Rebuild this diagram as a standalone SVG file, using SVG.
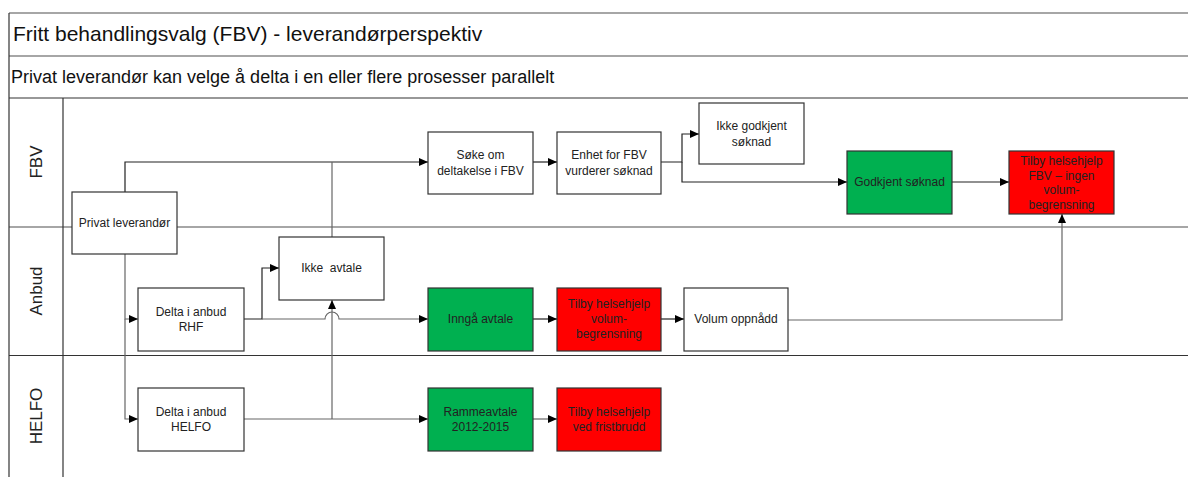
<svg xmlns="http://www.w3.org/2000/svg" width="1188" height="477" viewBox="0 0 1188 477">
<defs>
<marker id="arr" markerWidth="10" markerHeight="8" refX="9" refY="4" orient="auto" markerUnits="userSpaceOnUse">
<path d="M0,0 L9,4 L0,8 Z" fill="#000"/>
</marker>
<style>
.frame{stroke:#333;stroke-width:1.2;fill:none}
.fg{stroke:#888;stroke-width:1.6;fill:none}
.box{fill:#fff;stroke:#333;stroke-width:1.2}
.green{fill:#00B050;stroke:#333;stroke-width:1.2}
.red{fill:#FF0000;stroke:#333;stroke-width:1.2}
.t{font-family:"Liberation Sans",Arial,sans-serif;font-size:12px;fill:#222;text-anchor:middle}
.lane{font-family:"Liberation Sans",Arial,sans-serif;font-size:17px;fill:#222;text-anchor:middle}
.c{stroke:#222;stroke-width:1.2;fill:none}
.cg{stroke:#666;stroke-width:1.2;fill:none}
</style>
</defs>
<rect width="1188" height="477" fill="#fff"/>
<g id="frame">
<line class="fg" x1="9" y1="13" x2="1188" y2="13"/>
<line class="fg" x1="9" y1="56" x2="1188" y2="56"/>
<line class="frame" x1="9" y1="98" x2="1188" y2="98"/>
<line class="fg" x1="9" y1="227" x2="1188" y2="227"/>
<line class="frame" x1="9" y1="355.5" x2="1188" y2="355.5"/>
<line class="frame" x1="9" y1="13" x2="9" y2="477"/>
<line class="frame" x1="63" y1="98" x2="63" y2="477"/>
<text x="13" y="41" font-family="Liberation Sans,Arial,sans-serif" font-size="21" fill="#111">Fritt behandlingsvalg (FBV) - leverandørperspektiv</text>
<text x="11" y="83" font-family="Liberation Sans,Arial,sans-serif" font-size="18" fill="#111">Privat leverandør kan velge å delta i en eller flere prosesser parallelt</text>
<text class="lane" transform="translate(42,162) rotate(-90)">FBV</text>
<text class="lane" transform="translate(42,291) rotate(-90)">Anbud</text>
<text class="lane" transform="translate(42,416) rotate(-90)">HELFO</text>
</g>
<g id="connectors">
<path class="c" d="M125,192 V162 H428" marker-end="url(#arr)"/>
<path class="cg" d="M332,237 V162"/>
<path class="c" d="M533,162 H557" marker-end="url(#arr)"/>
<path class="c" d="M661,162 H682 V134 H699" marker-end="url(#arr)"/>
<path class="c" d="M682,162 V182 H847" marker-end="url(#arr)"/>
<path class="c" d="M952,182 H1009" marker-end="url(#arr)"/>
<path class="cg" d="M125,254 V319 H138" marker-end="url(#arr)"/>
<path class="cg" d="M125,319 V419 H138" marker-end="url(#arr)"/>
<path class="c" d="M244,319 H262 V268 H279" marker-end="url(#arr)"/>
<path class="cg" d="M262,319 H325 A7,7 0 0 1 339,319 H428" marker-end="url(#arr)"/>
<path class="cg" d="M244,419 H428" marker-end="url(#arr)"/>
<path class="cg" d="M332,419 V300" marker-end="url(#arr)"/>
<path class="c" d="M533,319 H557" marker-end="url(#arr)"/>
<path class="c" d="M661,319 H684" marker-end="url(#arr)"/>
<path class="cg" d="M788,320 H1062 V214" marker-end="url(#arr)"/>
<path class="cg" d="M533,419 H557" marker-end="url(#arr)"/>
</g>
<g id="privat">
<rect class="box" x="72" y="192" width="105" height="62"/>
<text class="t" x="124.5" y="227">Privat leverandør</text>
</g>
<g id="soke">
<rect class="box" x="428" y="132" width="105" height="62"/>
<text class="t" x="480.5" y="159">Søke om</text>
<text class="t" x="480.5" y="175">deltakelse i FBV</text>
</g>
<g id="enhet">
<rect class="box" x="557" y="132" width="104" height="62"/>
<text class="t" x="609" y="159">Enhet for FBV</text>
<text class="t" x="609" y="175">vurderer søknad</text>
</g>
<g id="ikkegodkjent">
<rect class="box" x="699" y="103" width="105" height="61"/>
<text class="t" x="751.5" y="130">Ikke godkjent</text>
<text class="t" x="751.5" y="146">søknad</text>
</g>
<g id="godkjent">
<rect class="green" x="847" y="151" width="105" height="63"/>
<text class="t" x="899.5" y="186">Godkjent søknad</text>
</g>
<g id="tilbyfbv">
<rect class="red" x="1009" y="151" width="105" height="63"/>
<text class="t" x="1061.5" y="165">Tilby helsehjelp</text>
<text class="t" x="1061.5" y="179.5">FBV – ingen</text>
<text class="t" x="1061.5" y="194">volum-</text>
<text class="t" x="1061.5" y="208.5">begrensning</text>
</g>
<g id="ikkeavtale">
<rect class="box" x="279" y="237" width="105" height="63"/>
<text class="t" x="331.5" y="272" xml:space="preserve">Ikke  avtale</text>
</g>
<g id="deltarhf">
<rect class="box" x="138" y="288" width="106" height="63"/>
<text class="t" x="191" y="316">Delta i anbud</text>
<text class="t" x="191" y="331">RHF</text>
</g>
<g id="inngaa">
<rect class="green" x="428" y="288" width="105" height="63"/>
<text class="t" x="480.5" y="323">Inngå avtale</text>
</g>
<g id="tilbyvolum">
<rect class="red" x="557" y="288" width="104" height="63"/>
<text class="t" x="609" y="308">Tilby helsehjelp</text>
<text class="t" x="609" y="323">volum-</text>
<text class="t" x="609" y="338">begrensning</text>
</g>
<g id="volum">
<rect class="box" x="684" y="288" width="104" height="63"/>
<text class="t" x="736" y="323">Volum oppnådd</text>
</g>
<g id="deltahelfo">
<rect class="box" x="138" y="388" width="106" height="63"/>
<text class="t" x="191" y="416">Delta i anbud</text>
<text class="t" x="191" y="431">HELFO</text>
</g>
<g id="rammeavtale">
<rect class="green" x="428" y="388" width="105" height="63"/>
<text class="t" x="480.5" y="416">Rammeavtale</text>
<text class="t" x="480.5" y="431">2012-2015</text>
</g>
<g id="tilbyfrist">
<rect class="red" x="557" y="388" width="104" height="63"/>
<text class="t" x="609" y="416">Tilby helsehjelp</text>
<text class="t" x="609" y="431">ved fristbrudd</text>
</g>
</svg>
